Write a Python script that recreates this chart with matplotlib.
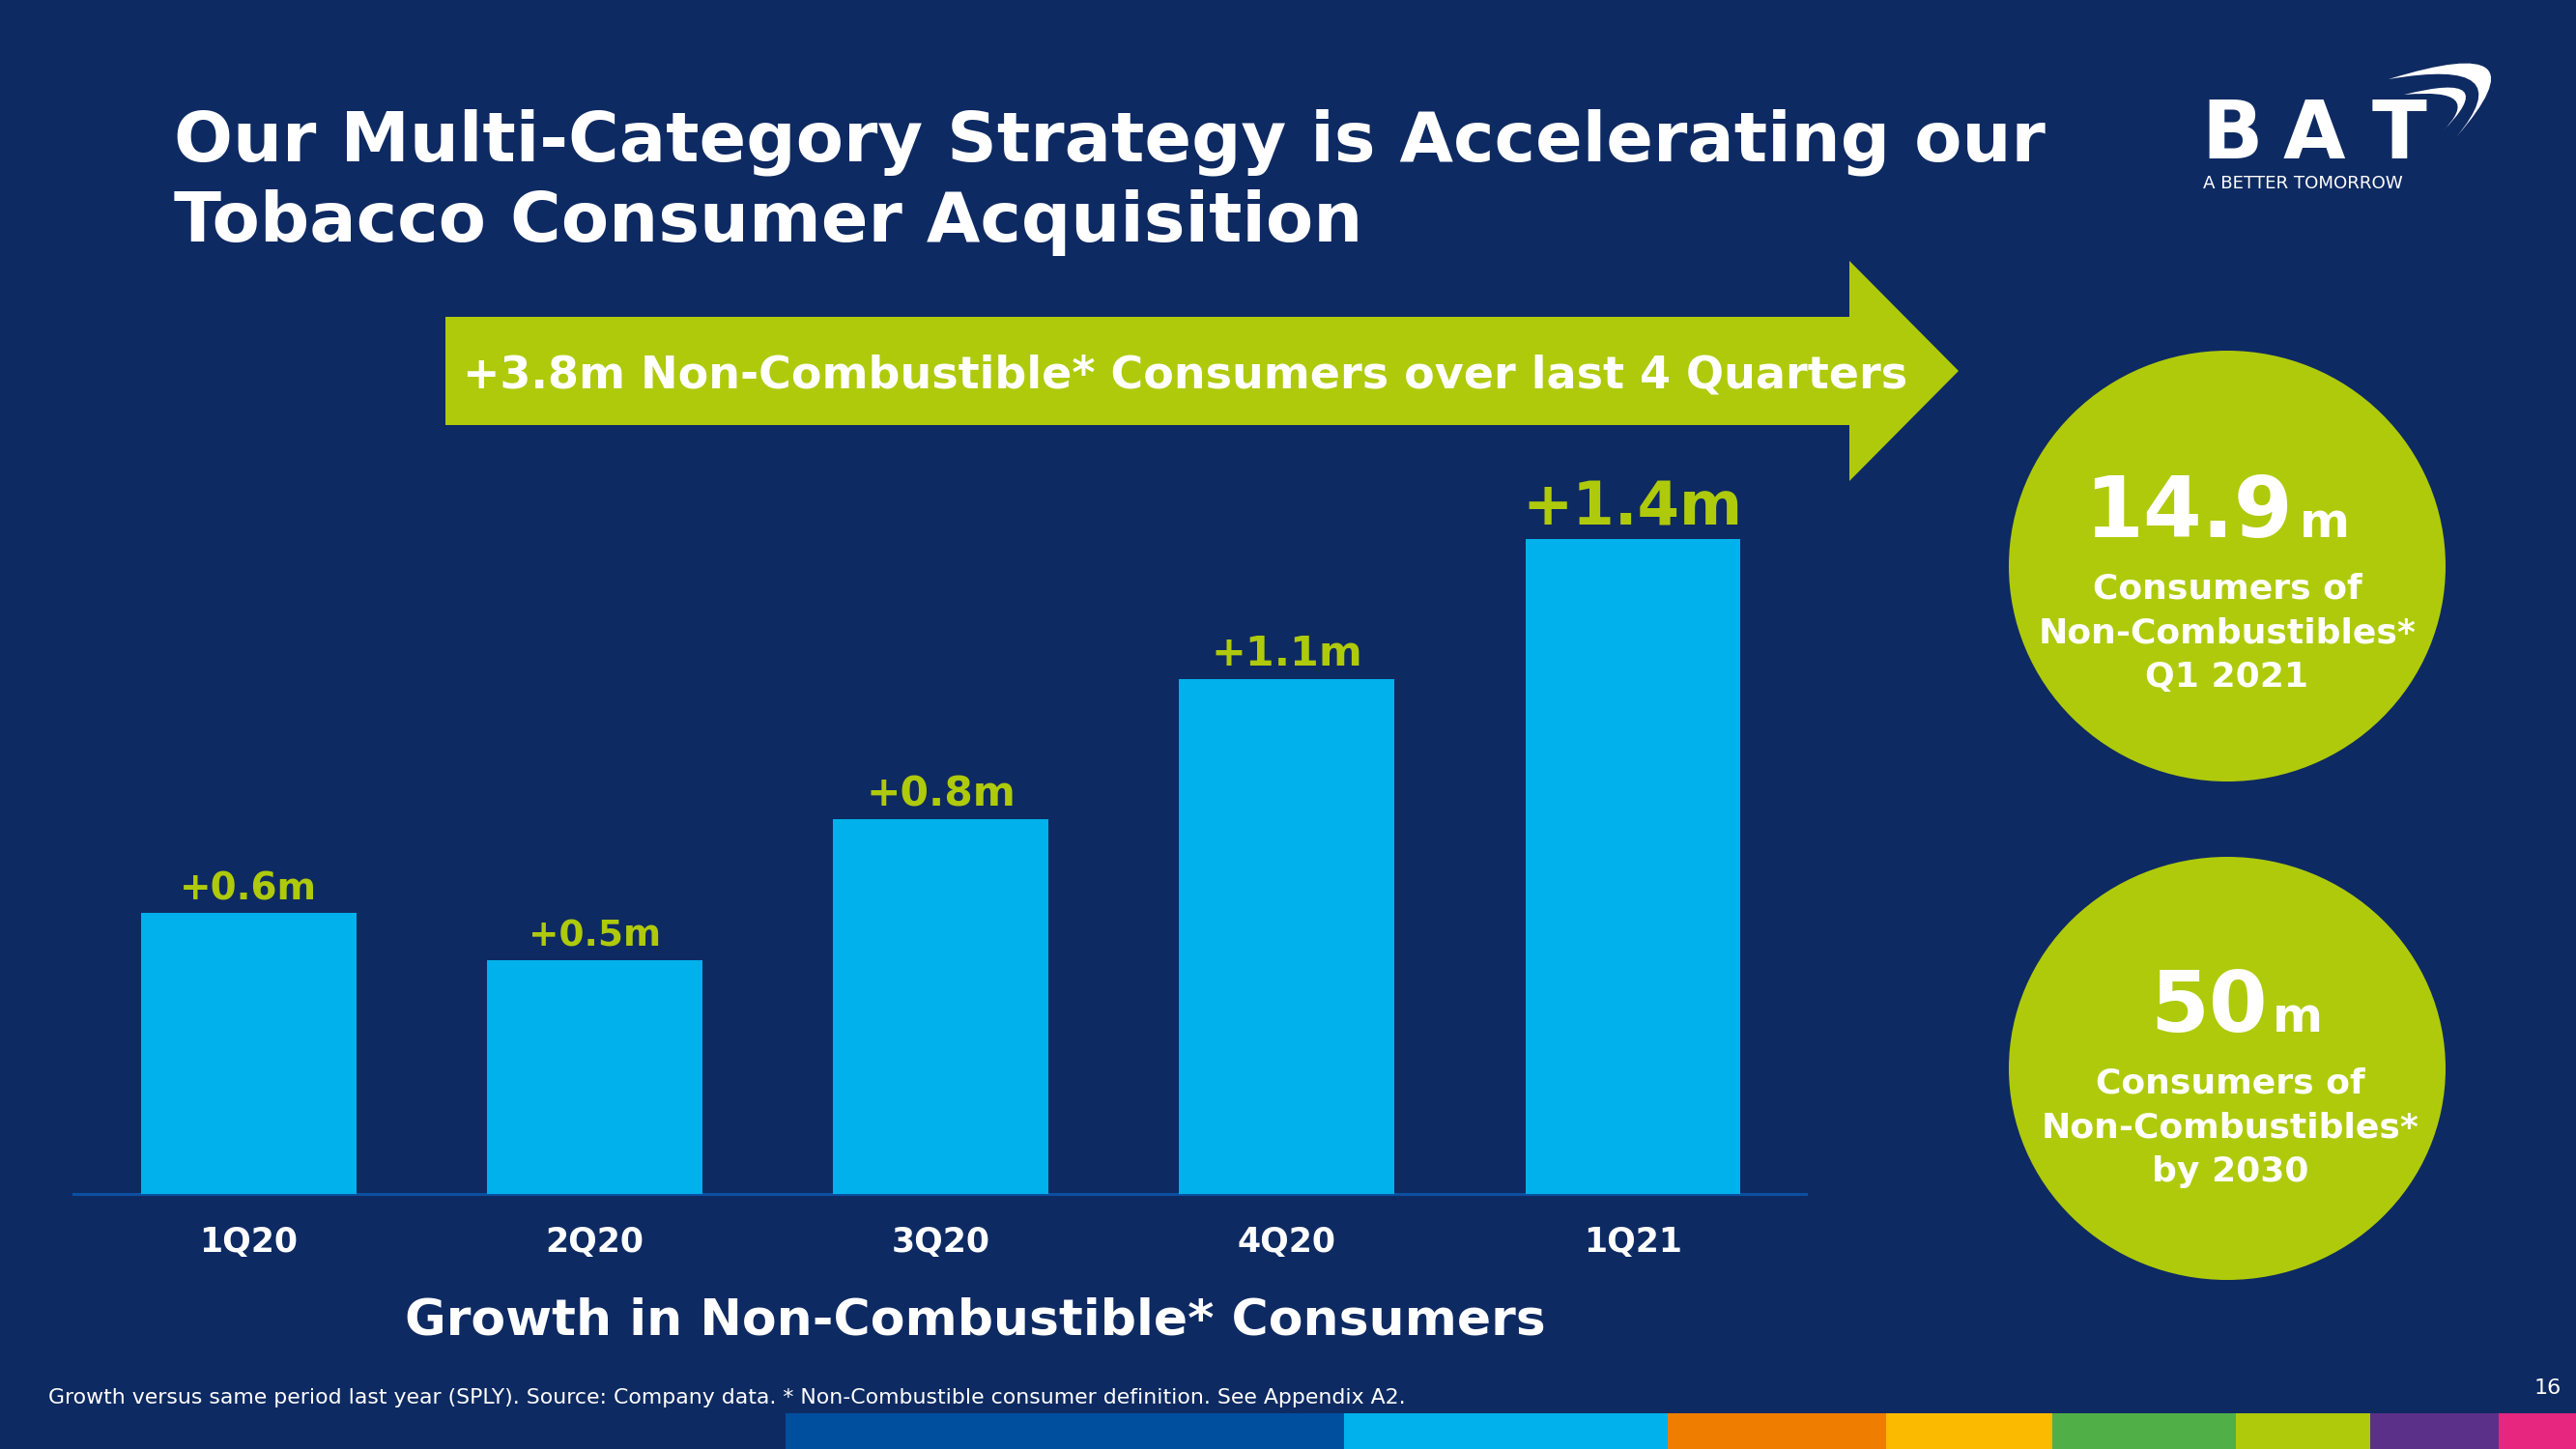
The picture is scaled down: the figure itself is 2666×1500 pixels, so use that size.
import matplotlib
matplotlib.use('Agg')
import matplotlib.pyplot as plt
from matplotlib.patches import Polygon, Ellipse, Rectangle, PathPatch
from matplotlib.path import Path

# data
quarters = ['1Q20', '2Q20', '3Q20', '4Q20', '1Q21']
growth = [0.6, 0.5, 0.8, 1.1, 1.4]   # m consumers, growth vs SPLY
consumers_q1_2021 = '14.9'
target_2030 = '50'
arrow_total = '+3.8m'

# style
BG = '#0E2A62'
LIME = '#AFCA0B'
CYAN = '#00B1EB'
label_sizes = [28, 27, 30.5, 31, 45]
strip_colors = ['#004F9F', '#00B1EB', '#EF7D00', '#FBB900', '#50AF47', '#AFCA0B', '#5B3088', '#E6267F']
strip_edges = [813, 1391, 1726, 1952, 2124, 2314, 2453, 2586, 2666]

plt.rcParams['font.family'] = 'DejaVu Sans'

fig = plt.figure(figsize=(26.66, 15), dpi=100, facecolor=BG)
renderer = fig.canvas.get_renderer()


def fit(t, width):
    # scale a text so that it spans the given width in pixels
    w = t.get_window_extent(renderer).width
    t.set_fontsize(t.get_fontsize() * width / w)


# full page layer in pixel coordinates (y down)
page = fig.add_axes([0, 0, 1, 1])
page.set_xlim(0, 2666)
page.set_ylim(1500, 0)
page.axis('off')

# bar chart
ax = fig.add_axes([76 / 2666, 264 / 1500, 1793 / 2666, 775 / 1500])
ax.patch.set_alpha(0)
ax.bar(range(len(growth)), growth, width=0.622, color=CYAN, zorder=3)
ax.set_xlim(-0.506, 4.5)
ax.set_ylim(0, 1.6)
for s in ['top', 'right', 'left']:
    ax.spines[s].set_visible(False)
ax.spines['bottom'].set_color('#0B4FA0')
ax.spines['bottom'].set_linewidth(2.2)
ax.set_yticks([])
ax.set_xticks(range(len(quarters)), quarters, color='white', fontsize=25, fontweight='bold')
ax.tick_params(axis='x', length=0, pad=24)
for i, v in enumerate(growth):
    ax.annotate(f'+{v}m', (i, v), xytext=(0, 10), textcoords='offset points',
                ha='center', va='baseline', color=LIME,
                fontsize=label_sizes[i], fontweight='bold')

# title
t1 = page.text(180, 166, 'Our Multi-Category Strategy is Accelerating our',
               color='white', fontweight='bold', fontsize=50, va='baseline')
fit(t1, 1940)
page.text(180, 250, 'Tobacco Consumer Acquisition', color='white', fontweight='bold',
          fontsize=t1.get_fontsize(), va='baseline')

# arrow banner
page.add_patch(Polygon([(461, 328), (1914, 328), (1914, 270), (2027, 384),
                        (1914, 498), (1914, 440), (461, 440)], closed=True, color=LIME, lw=0))
ta = page.text(1227, 402, f'{arrow_total} Non-Combustible* Consumers over last 4 Quarters',
               color='white', fontweight='bold', fontsize=30, ha='center', va='baseline')
fit(ta, 1493)

# chart subtitle
ts = page.text(1009, 1382, 'Growth in Non-Combustible* Consumers', color='white',
               fontweight='bold', fontsize=38, ha='center', va='baseline')
fit(ts, 1178)

# circles
page.add_patch(Ellipse((2305, 586), 452, 446, color=LIME, lw=0))
page.add_patch(Ellipse((2305, 1106), 452, 438, color=LIME, lw=0))

page.text(2373, 556, consumers_q1_2021, color='white', fontweight='bold', fontsize=63,
          ha='right', va='baseline')
page.text(2380, 556, 'm', color='white', fontweight='bold', fontsize=36, va='baseline')
for y, line in zip([619, 665, 711], ['Consumers of', 'Non-Combustibles*', 'Q1 2021']):
    page.text(2305, y, line, color='white', fontweight='bold', fontsize=26,
              ha='center', va='baseline')

page.text(2347, 1068, target_2030, color='white', fontweight='bold', fontsize=63,
          ha='right', va='baseline')
page.text(2352, 1068, 'm', color='white', fontweight='bold', fontsize=36, va='baseline')
for y, line in zip([1131, 1177, 1223], ['Consumers of', 'Non-Combustibles*', 'by 2030']):
    page.text(2308, y, line, color='white', fontweight='bold', fontsize=26,
              ha='center', va='baseline')

# logo
page.text(2278, 164, 'B', color='white', fontweight='bold', fontsize=60, va='baseline')
page.text(2395, 164, 'A', color='white', fontweight='bold', fontsize=60, va='baseline', ha='center')
page.text(2483, 164, 'T', color='white', fontweight='bold', fontsize=60, va='baseline', ha='center')
tl = page.text(2280, 195, 'A BETTER TOMORROW', color='white', fontsize=10, va='baseline')
fit(tl, 208)
C3 = Path.CURVE3
for verts in ([(2472, 82), (2640, 30), (2542, 142), (2612, 58), (2472, 82)],
              [(2488, 98), (2592, 72), (2527, 137), (2574, 90), (2488, 98)]):
    page.add_patch(PathPatch(Path(verts + [verts[0]], [Path.MOVETO, C3, C3, C3, C3, Path.CLOSEPOLY]),
                             facecolor='white', lw=0))

# footer
tf = page.text(50, 1453, 'Growth versus same period last year (SPLY). Source: Company data. '
               '* Non-Combustible consumer definition. See Appendix A2.',
               color='white', fontsize=17, va='baseline')
fit(tf, 1404)
page.text(2651, 1443, '16', color='white', fontsize=16, ha='right', va='baseline')
for c, x0, x1 in zip(strip_colors, strip_edges[:-1], strip_edges[1:]):
    page.add_patch(Rectangle((x0, 1463), x1 - x0, 37, color=c, lw=0))

fig.savefig('out.png', dpi=100, facecolor=BG)
